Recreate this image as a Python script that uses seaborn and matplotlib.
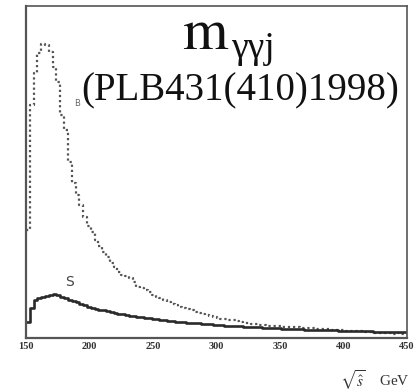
import numpy as np
import pandas as pd
import matplotlib
matplotlib.use("Agg")
import matplotlib.pyplot as plt
from matplotlib.ticker import MultipleLocator
import seaborn as sns

# ---- data (3 GeV bins from 150 to 450 GeV, arbitrary units) ----
bin_edges = list(range(150, 453, 3))
background = [108, 233, 265, 285, 294, 293, 286, 271, 256, 223,
              208, 176, 155, 143, 133, 121, 112, 106, 98, 92,
              86, 81, 75, 71, 66, 63, 62, 60, 56, 51,
              50, 48, 46, 43, 41, 40, 38, 36, 34, 33,
              31, 30, 29, 28, 26, 25, 24, 23, 22, 21,
              20, 19, 19, 18, 18, 17, 16, 15, 15, 14,
              14, 13, 13, 12, 12, 12, 12, 11, 11, 11,
              11, 11, 10, 10, 10, 10, 9, 9, 9, 9,
              8, 8, 8, 8, 7, 7, 7, 7, 7, 6,
              6, 5, 5, 5, 5, 5, 4, 5, 4, 4]
signal = [16, 30, 38, 40, 41, 42, 43, 44, 43, 41,
          40, 38, 37, 36, 34, 33, 31, 30, 29, 28,
          28, 27, 26, 25, 24, 24, 23, 22, 22, 21,
          21, 20, 20, 19, 19, 18, 18, 17, 17, 16,
          16, 16, 15, 15, 15, 15, 14, 14, 14, 13,
          13, 13, 12, 12, 12, 12, 12, 11, 11, 11,
          11, 11, 10, 10, 10, 10, 10, 9, 9, 9,
          9, 9, 9, 8, 8, 8, 8, 8, 8, 8,
          8, 8, 7, 7, 7, 7, 7, 7, 7, 7,
          7, 6, 6, 6, 6, 6, 6, 6, 6, 6]
x_ticks = [150, 200, 250, 300, 350, 400, 450]

centers = [(a + b) / 2 for a, b in zip(bin_edges[:-1], bin_edges[1:])]
df_b = pd.DataFrame({"m": centers, "w": background})
df_s = pd.DataFrame({"m": centers, "w": signal})

sns.set_style("white")
W, H = 416, 392
fig = plt.figure(figsize=(W / 100, H / 100), dpi=100)
ax = fig.add_axes([26 / W, 1 - 338 / H, (407 - 26) / W, (338 - 6) / H])

sns.histplot(data=df_b, x="m", weights="w", bins=bin_edges, element="step",
             fill=False, color="#555555", linestyle=(0, (1.0, 1.3)),
             linewidth=1.6, ax=ax)
sns.histplot(data=df_s, x="m", weights="w", bins=bin_edges, element="step",
             fill=False, color="#2a2a2a", linewidth=1.9, ax=ax)

ax.set_xlim(150, 450)
ax.set_ylim(0, 332)
ax.set_xlabel("")
ax.set_ylabel("")
ax.set_xticks(x_ticks)
ax.set_xticklabels([str(t) for t in x_ticks], fontfamily="Liberation Serif",
                   fontweight="bold", fontsize=7.5, color="#333333")
ax.xaxis.set_minor_locator(MultipleLocator(10))
ax.yaxis.set_major_locator(MultipleLocator(33.2))
ax.yaxis.set_minor_locator(MultipleLocator(6.64))
ax.set_yticklabels([])
ax.tick_params(axis="both", which="both", direction="in", color="#555555",
               top=False, right=False)
ax.tick_params(axis="x", which="major", length=6, width=0.9, pad=3)
ax.tick_params(axis="x", which="minor", length=3, width=0.8)
ax.tick_params(axis="y", which="major", length=6, width=0.8, labelleft=False)
ax.tick_params(axis="y", which="minor", length=3, width=0.7)
for sp in ax.spines.values():
    sp.set_color("#555555")
    sp.set_linewidth(1.2)
ax.spines["bottom"].set_linewidth(1.6)
ax.spines["left"].set_linewidth(1.6)
ax.grid(False)


def fx(x):
    return x / W


def fy(y):
    return 1 - y / H


fig.text(fx(182), fy(4), r"$\mathrm{m}$", fontsize=42, math_fontfamily="stix",
         ha="left", va="top", color="#111111")
fig.text(fx(231), fy(58), "γγj", fontfamily="Liberation Serif", fontsize=27,
         ha="left", va="baseline", color="#111111")
fig.text(fx(81), fy(100), "(PLB431(410)1998)", fontfamily="Liberation Serif",
         fontsize=28, ha="left", va="baseline", color="#111111")
fig.text(fx(77), fy(104), "B", fontfamily="DejaVu Sans", fontsize=6,
         ha="center", va="center", color="#666666")
fig.text(fx(69), fy(282), "S", fontfamily="DejaVu Sans", fontsize=10,
         ha="center", va="center", color="#444444")
fig.text(fx(410), fy(380), r"$\sqrt{\hat{s}}$    GeV", fontfamily="Liberation Serif",
         fontsize=11, ha="right", va="center", color="#333333",
         math_fontfamily="stix")

fig.savefig("out.png", dpi=100, facecolor="white")
